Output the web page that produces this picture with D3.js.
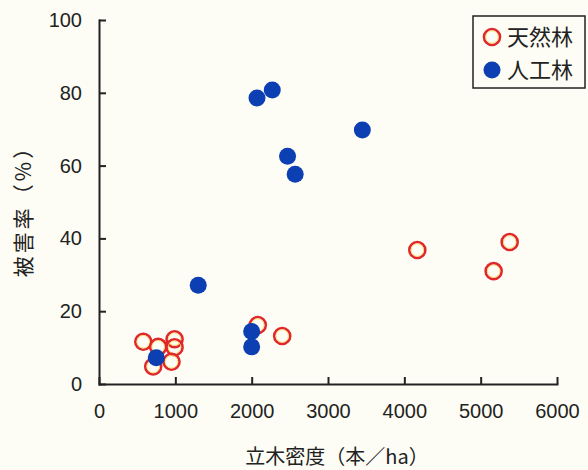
<!DOCTYPE html>
<html>
<head>
<meta charset="utf-8">
<script src="https://cdn.jsdelivr.net/npm/d3@7"></script>
<style>
  body { margin: 0; background: #fdfdf5; }
  svg { display: block; }
  .axis path, .axis line { stroke: #222; stroke-width: 2; }
  .axis text { font-family: "Liberation Sans", Arial, sans-serif; font-size: 20px; fill: #222; }
  .title { font-family: "Noto Sans CJK JP", sans-serif; font-size: 20px; fill: #222; }
</style>
</head>
<body>
<svg id="chart" width="588" height="470"></svg>
<script>
// 天然林 (natural forest)
var naturalDensity = [580, 775, 990, 990, 710, 950, 2080, 2400, 4170, 5170, 5380];
var naturalDamage  = [11.6, 10.2, 12.3, 10.1, 4.8, 6.1, 16.2, 13.2, 36.8, 31.0, 39.0];
// 人工林 (plantation)
var plantDensity = [750, 2000, 2000, 1300, 2070, 2270, 2470, 2570, 3450];
var plantDamage  = [7.2, 14.4, 10.2, 27.1, 78.6, 80.8, 62.6, 57.6, 69.8];

var xTicks = [0, 1000, 2000, 3000, 4000, 5000, 6000];
var yTicks = [0, 20, 40, 60, 80, 100];
var legendLabels = ["天然林", "人工林"];

var svg = d3.select("#chart");
var margin = {left: 99, top: 20, right: 31, bottom: 86};
var width = +svg.attr("width") - margin.left - margin.right,
    height = +svg.attr("height") - margin.top - margin.bottom;

var g = svg.append("g").attr("transform", "translate(" + margin.left + "," + margin.top + ")");

var x = d3.scaleLinear().domain([0, 6000]).range([0, width]);
var y = d3.scaleLinear().domain([0, 100]).range([height, 0]);

g.append("g")
    .attr("class", "axis")
    .attr("transform", "translate(0," + height + ")")
    .call(d3.axisBottom(x).tickValues(xTicks).tickFormat(d3.format("d"))
        .tickSizeInner(-7).tickSizeOuter(0).tickPadding(20));

g.append("g")
    .attr("class", "axis")
    .call(d3.axisLeft(y).tickValues(yTicks).tickSizeInner(-7).tickSizeOuter(0).tickPadding(17));

g.selectAll(".axis .domain").attr("stroke-linecap", "square");

var natural = naturalDensity.map(function(d, i) { return {x: d, y: naturalDamage[i]}; });
var plant = plantDensity.map(function(d, i) { return {x: d, y: plantDamage[i]}; });

function openCircle(sel) {
    sel.append("circle").attr("r", 8).attr("fill", "none")
        .attr("stroke", "#e0262e").attr("stroke-width", 2.6);
    sel.append("circle").attr("r", 6.3).attr("fill", "none")
        .attr("stroke", "#f6d860").attr("stroke-width", 0.9);
}
function filledCircle(sel) {
    sel.append("circle").attr("r", 8.5).attr("fill", "#0b3fb2");
}

g.selectAll(".nat").data(natural).enter().append("g")
    .attr("class", "nat")
    .attr("transform", function(d) { return "translate(" + x(d.x) + "," + y(d.y) + ")"; })
    .call(openCircle);

g.selectAll(".plant").data(plant).enter().append("g")
    .attr("class", "plant")
    .attr("transform", function(d) { return "translate(" + x(d.x) + "," + y(d.y) + ")"; })
    .call(filledCircle);

// axis titles
svg.append("text").attr("class", "title")
    .attr("x", 337).attr("y", 464)
    .attr("text-anchor", "middle")
    .text("立木密度（本／ha）");

svg.append("text").attr("class", "title")
    .attr("transform", "translate(31,206) rotate(-90)")
    .attr("text-anchor", "middle")
    .style("font-size", "21px")
    .style("letter-spacing", "3px")
    .text("被害率（%）");

// legend
var legend = svg.append("g").attr("transform", "translate(473,16)");
legend.append("rect").attr("width", 112).attr("height", 72)
    .attr("fill", "#fdfdf5").attr("stroke", "#222").attr("stroke-width", 1.5);
var items = legend.selectAll(".item").data(legendLabels).enter().append("g")
    .attr("class", "item")
    .attr("transform", function(d, i) { return "translate(19," + (21 + i * 33) + ")"; });
items.each(function(d, i) {
    d3.select(this).call(i === 0 ? openCircle : filledCircle);
});
items.append("text").attr("class", "title")
    .attr("x", 15).attr("dy", "0.36em")
    .style("font-size", "22px")
    .text(function(d) { return d; });
</script>
</body>
</html>
